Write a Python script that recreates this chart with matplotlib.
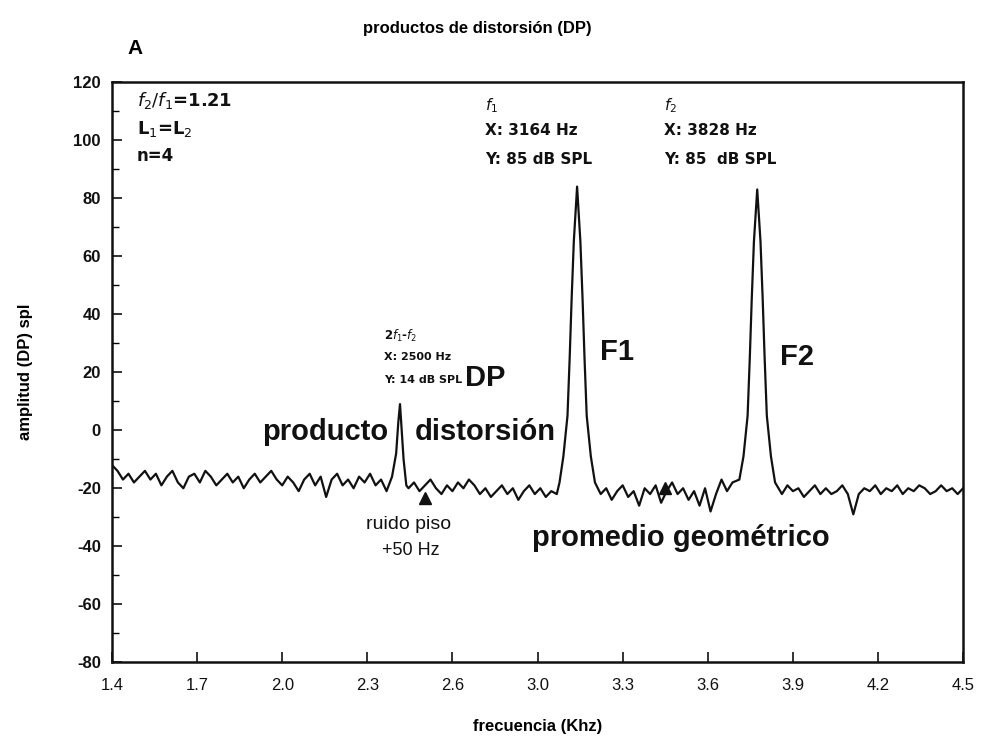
import numpy as np
import matplotlib
matplotlib.use("Agg")
import matplotlib.pyplot as plt

plt.rcParams["font.family"] = ["Liberation Sans", "DejaVu Sans"]
INK = "#111111"

# spectrum trace: frequency (kHz, axis units) and amplitude (dB SPL)
freq = [1.40, 1.42, 1.44, 1.46, 1.48, 1.50, 1.52, 1.54, 1.56, 1.58, 1.60, 1.62, 1.64, 1.66,
        1.68, 1.70, 1.72, 1.74, 1.76, 1.78, 1.80, 1.82, 1.84, 1.86, 1.88, 1.90, 1.92, 1.94,
        1.96, 1.98, 2.00, 2.02, 2.04, 2.06, 2.08, 2.10, 2.12, 2.14, 2.16, 2.18, 2.20, 2.22,
        2.24, 2.26, 2.28, 2.30, 2.32, 2.34, 2.36, 2.38, 2.40,
        2.42, 2.435, 2.443, 2.449, 2.455, 2.462, 2.472,
        2.48, 2.50, 2.52, 2.54, 2.56, 2.58, 2.60, 2.62, 2.64, 2.66, 2.68, 2.70, 2.72, 2.74,
        2.76, 2.78, 2.80, 2.82, 2.84, 2.86, 2.88, 2.90, 2.92, 2.94, 2.96, 2.98, 3.00, 3.02,
        3.03, 3.044, 3.059, 3.067, 3.074, 3.082, 3.094, 3.106, 3.114, 3.121, 3.129, 3.144, 3.159,
        3.18, 3.20, 3.22, 3.24, 3.26, 3.28, 3.30, 3.32, 3.34, 3.36, 3.38, 3.40, 3.42, 3.44,
        3.46, 3.48, 3.50, 3.52, 3.54, 3.56, 3.58, 3.60, 3.62, 3.64, 3.66,
        3.685, 3.70, 3.715, 3.723, 3.730, 3.738, 3.75, 3.762, 3.770, 3.777, 3.785, 3.80, 3.815,
        3.84, 3.86, 3.88, 3.90, 3.92, 3.94, 3.96, 3.98, 4.00, 4.02, 4.04, 4.06, 4.08, 4.10,
        4.12, 4.14, 4.16, 4.18, 4.20, 4.22, 4.24, 4.26, 4.28, 4.30, 4.32, 4.34, 4.36, 4.38,
        4.40, 4.42, 4.44, 4.46, 4.48, 4.50]
amp = [-12, -14, -17, -15, -18, -16, -14, -17, -15, -19, -16, -14, -18, -20,
       -16, -15, -18, -14, -16, -19, -17, -15, -18, -16, -20, -17, -15, -18,
       -16, -14, -17, -19, -16, -18, -21, -17, -15, -19, -16, -23, -17, -15,
       -19, -17, -20, -16, -18, -15, -19, -17, -21,
       -16, -8, 3, 9, 0, -10, -19,
       -20, -18, -21, -19, -17, -20, -22, -19, -21, -18, -20, -17, -19, -22,
       -20, -23, -21, -19, -22, -20, -24, -21, -19, -22, -20, -23, -21, -22,
       -18, -9, 5, 25, 45, 65, 84, 65, 45, 25, 5, -9, -18,
       -22, -20, -24, -21, -19, -23, -21, -26, -20, -22, -19, -25, -21, -18,
       -22, -20, -24, -21, -26, -20, -28, -22, -17, -21, -18,
       -17, -9, 5, 25, 45, 65, 83, 65, 45, 25, 5, -9, -18,
       -22, -19, -21, -20, -23, -21, -19, -22, -20, -22, -21, -19, -22, -29,
       -22, -20, -21, -19, -22, -20, -21, -19, -22, -20, -21, -19, -20, -22,
       -21, -19, -21, -20, -22, -20]

xtick_labels = ["1.4", "1.7", "2.0", "2.3", "2.6", "3.0", "3.3", "3.6", "3.9", "4.2", "4.5"]
yticks = [-80, -60, -40, -20, 0, 20, 40, 60, 80, 100, 120]

# marker positions (noise floor +50 Hz, geometric mean)
marker_x = [2.54, 3.415]
marker_y = [-23.5, -20]

fig = plt.figure(figsize=(9.84, 7.40), dpi=100)
ax = fig.add_axes([0.1138, 0.105, 0.865, 0.784])
ax.plot(freq, amp, color=INK, lw=1.6)
ax.plot(marker_x, marker_y, "^", color=INK, ms=9, clip_on=False)

ax.set_xlim(1.4, 4.5)
ax.set_ylim(-80, 120)
ax.set_xticks(np.linspace(1.4, 4.5, len(xtick_labels)))
ax.set_xticklabels(xtick_labels, fontsize=12)
ax.set_yticks(yticks)
ax.set_yticklabels([str(v) for v in yticks], fontsize=12, fontweight="bold")
ax.set_yticks(np.arange(-70, 120, 20), minor=True)
ax.tick_params(axis="both", direction="in", length=7, width=1.2, colors=INK, pad=8)
ax.tick_params(axis="x", pad=11)
ax.tick_params(axis="y", which="minor", direction="in", length=5, width=1.0)
for s in ax.spines.values():
    s.set_linewidth(1.8)
    s.set_color(INK)

ax.set_xlabel("frecuencia (Khz)", fontsize=12, fontweight="bold", labelpad=19)
ax.set_ylabel("amplitud (DP) spl", fontsize=12, fontweight="bold", labelpad=29)
fig.text(0.485, 0.962, "productos de distorsión (DP)", ha="center", va="center",
         fontsize=12, fontweight="bold")
fig.text(0.137, 0.935, "A", ha="center", va="center", fontsize=15, fontweight="bold")

def small(size):
    return dict(fontsize=size, color=INK, va="center", ha="left", fontfamily="DejaVu Sans",
                fontweight="bold")

# top-left conditions
ax.text(1.49, 113.5, "$f_2/f_1$=1.21", **small(13))
ax.text(1.49, 104, "L$_1$=L$_2$", **small(13))
ax.text(1.49, 94.5, "n=4", **small(12))
# f1 annotation
ax.text(2.76, 112, "$f_1$", **small(11))
ax.text(2.76, 103.2, "X: 3164 Hz", **small(11))
ax.text(2.76, 93.5, "Y: 85 dB SPL", **small(11))
# f2 annotation
ax.text(3.41, 112, "$f_2$", **small(11))
ax.text(3.41, 103.2, "X: 3828 Hz", **small(11))
ax.text(3.41, 93.5, "Y: 85  dB SPL", **small(11))
# DP annotation
ax.text(2.39, 32.5, "2$f_1$-$f_2$", **small(8.5))
ax.text(2.39, 25.2, "X: 2500 Hz", **small(8))
ax.text(2.39, 17.2, "Y: 14 dB SPL", **small(8))

big = dict(fontsize=21, fontweight="bold", color=INK, va="center")
ax.text(2.686, 18, "DP", ha="left", **big)
ax.text(3.178, 27, "F1", ha="left", **big)
ax.text(3.833, 25.3, "F2", ha="left", **big)
ax.text(2.405, -0.6, "producto", ha="right", **big)
ax.text(2.504, -0.6, "distorsión", ha="left", **big)
ax.text(3.473, -37, "promedio geométrico", ha="center", **big)
ax.text(2.48, -32.5, "ruido piso", ha="center", fontsize=14, color=INK, va="center")
ax.text(2.49, -41.5, "+50 Hz", ha="center", fontsize=13, color=INK, va="center")

fig.savefig("out.png", dpi=100, facecolor="white")
